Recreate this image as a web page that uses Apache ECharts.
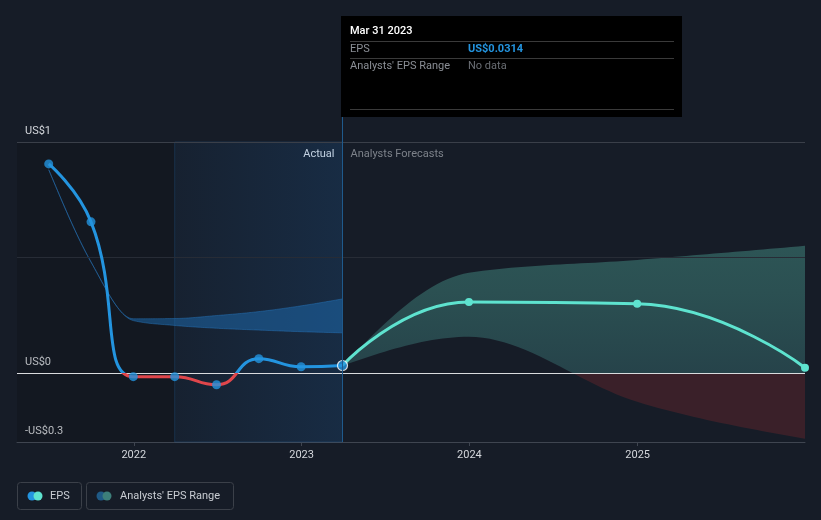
<!DOCTYPE html>
<html>
<head>
<meta charset="utf-8">
<script src="https://cdn.jsdelivr.net/npm/echarts@6/dist/echarts.min.js"></script>
<style>
html,body{margin:0;padding:0;background:#161c27;}
#c{width:821px;height:520px;}
</style>
</head>
<body>
<div id="c"></div>
<script>
// ---- data ----
const actualDates = ['2021-06-30','2021-09-30','2021-12-31','2022-03-31','2022-06-30','2022-09-30','2022-12-31','2023-03-31'];
const actualEps = [0.905, 0.654, -0.017, -0.017, -0.052, 0.061, 0.026, 0.0314];
const forecastDates = ['2023-03-31','2023-12-31','2024-12-31','2025-12-31'];
const forecastEps = [0.0314, 0.307, 0.299, 0.022];
const forecastLow = [0.0314, 0.156, -0.126, -0.286];
const forecastHigh = [0.0314, 0.433, 0.489, 0.55];
const pastRangeDates = ['2021-06-30','2021-09-30','2021-12-31','2022-03-31','2022-06-30','2022-09-30','2022-12-31','2023-03-31'];
const pastRangeLow = [0.88, 0.48, 0.226, 0.205, 0.193, 0.185, 0.178, 0.173];
const pastRangeHigh = [0.88, 0.48, 0.234, 0.235, 0.248, 0.265, 0.29, 0.32];
const yearTicks = [2022, 2023, 2024, 2025];
const yTickValues = [-0.3, 0, 1];
const yTickLabels = ['-US$0.3', 'US$0', 'US$1'];

// ---- helpers ----
const t = s => { const [y, m, d] = s.split('-').map(Number); return Date.UTC(y, m - 1, d); };
const pairs = (ds, vs) => ds.map((d, i) => [t(d), vs[i]]);
const triples = (ds, lo, hi) => ds.map((d, i) => [t(d), lo[i], hi[i]]);
const FONT = 'Roboto, "Noto Sans", sans-serif';

// monotone-x cubic curve through pixel points, sampled into a polyline
function monotoneSample(pts) {
  const n = pts.length;
  if (n < 2) return pts.slice();
  const sgn = v => (v > 0) - (v < 0);
  const sl = [];
  for (let i = 0; i < n - 1; i++) {
    const h = pts[i + 1][0] - pts[i][0];
    sl.push(h ? (pts[i + 1][1] - pts[i][1]) / h : 0);
  }
  const tan = new Array(n).fill(0);
  for (let i = 1; i < n - 1; i++) {
    const h0 = pts[i][0] - pts[i - 1][0], h1 = pts[i + 1][0] - pts[i][0];
    const s0 = sl[i - 1], s1 = sl[i];
    const p = (s0 * h1 + s1 * h0) / (h0 + h1);
    tan[i] = (sgn(s0) + sgn(s1)) * Math.min(Math.abs(s0), Math.abs(s1), 0.5 * Math.abs(p)) || 0;
  }
  if (n === 2) { tan[0] = tan[1] = sl[0]; }
  else {
    tan[0] = (3 * sl[0] - tan[1]) / 2;
    tan[n - 1] = (3 * sl[n - 2] - tan[n - 2]) / 2;
  }
  const out = [pts[0]];
  for (let i = 0; i < n - 1; i++) {
    const p = pts[i], q = pts[i + 1], dx = (q[0] - p[0]) / 3;
    const c1 = [p[0] + dx, p[1] + dx * tan[i]], c2 = [q[0] - dx, q[1] - dx * tan[i + 1]];
    for (let k = 1; k <= 24; k++) {
      const u = k / 24, a = (1 - u) ** 3, b = 3 * (1 - u) ** 2 * u, c = 3 * (1 - u) * u * u, e = u ** 3;
      out.push([a * p[0] + b * c1[0] + c * c2[0] + e * q[0], a * p[1] + b * c1[1] + c * c2[1] + e * q[1]]);
    }
  }
  return out;
}
function bandRenderer(fill, stroke) {
  return function (params, api) {
    if (params.dataIndex !== 0) return {type: 'group', children: []};
    const n = params.dataInsideLength;
    const up = [], lo = [];
    for (let i = 0; i < n; i++) {
      up.push(api.coord([api.value(0, i), api.value(2, i)]));
      lo.push(api.coord([api.value(0, i), api.value(1, i)]));
    }
    const pts = monotoneSample(up).concat(monotoneSample(lo).reverse());
    return {
      type: 'polygon', shape: {points: pts},
      style: {fill: fill, stroke: stroke || null, lineWidth: stroke ? 1 : 0}
    };
  };
}

const chart = echarts.init(document.getElementById('c'), null, {renderer: 'canvas'});

const xMin = t('2021-04-22'), xMax = t('2025-12-31');
const highlightStart = t('2022-03-31'), nowT = t('2023-03-31');
const GT = 142, GB = 442, zeroOff = 1 / 1.3;

const fcFill = new echarts.graphic.LinearGradient(0, GT, 0, GB, [
  {offset: 0, color: '#315f5d'},
  {offset: 0.5, color: '#2b5052'},
  {offset: zeroOff, color: '#26434a'},
  {offset: zeroOff + 0.0001, color: '#3a2029'},
  {offset: 1, color: '#3a2029'}], true);

const option = {
  backgroundColor: '#161c27',
  animation: false,
  textStyle: {fontFamily: FONT},
  grid: {left: 17, right: 16, top: GT, bottom: 520 - GB},
  xAxis: {
    type: 'value', min: xMin, max: xMax,
    splitLine: {show: false},
    axisLine: {onZero: false, lineStyle: {color: '#3f4550', width: 1}},
    axisTick: {show: true, length: 4, lineStyle: {color: '#3f4550'},
      customValues: yearTicks.map(y => Date.UTC(y, 0, 1))},
    axisLabel: {color: '#d4d7dc', fontSize: 11, margin: 8, fontFamily: FONT,
      customValues: yearTicks.map(y => Date.UTC(y, 0, 1)),
      formatter: v => String(new Date(v).getUTCFullYear())}
  },
  yAxis: {
    type: 'value', min: -0.3, max: 1,
    splitLine: {show: false},
    axisLine: {show: false}, axisTick: {show: false},
    axisLabel: {inside: true, verticalAlign: 'bottom', margin: 8, color: '#d4d7dc', fontSize: 11, fontFamily: FONT,
      customValues: yTickValues,
      formatter: v => { const i = yTickValues.findIndex(x => Math.abs(x - v) < 1e-9); return i >= 0 ? yTickLabels[i] : ''; },
      padding: [0, 0, 5, 0]}
  },
  series: [
    { // 0 past analyst range band
      type: 'custom', z: 2, clip: true, silent: true,
      encode: {x: 0, y: [1, 2]},
      renderItem: bandRenderer('rgba(30,112,185,0.48)', 'rgba(40,120,190,0.45)'),
      data: triples(pastRangeDates, pastRangeLow, pastRangeHigh),
      markArea: {
        silent: true,
        data: [
          [{xAxis: xMin, itemStyle: {color: 'rgba(0,0,0,0.13)'}}, {xAxis: highlightStart}],
          [{xAxis: highlightStart, itemStyle: {
            color: new echarts.graphic.LinearGradient(0, 0, 1, 0, [
              {offset: 0, color: 'rgba(30,100,170,0.07)'},
              {offset: 1, color: 'rgba(30,100,170,0.22)'}]),
            borderColor: 'rgba(40,110,180,0.25)', borderWidth: 1}}, {xAxis: nowT}]
        ]
      },
      markLine: {
        silent: true, symbol: 'none', label: {show: false},
        data: [
          {yAxis: 1, lineStyle: {color: '#3a3f49', width: 1, type: 'solid'}},
          {yAxis: 0.5, lineStyle: {color: '#272c36', width: 1, type: 'solid'}}
        ]
      }
    },
    { // 1 forecast analyst range band
      type: 'custom', z: 2, clip: true, silent: true,
      encode: {x: 0, y: [1, 2]},
      renderItem: bandRenderer(fcFill, null),
      data: triples(forecastDates, forecastLow, forecastHigh),
      markLine: {
        silent: true, symbol: 'none', label: {show: false}, z: 3,
        data: [{yAxis: 0, lineStyle: {color: '#d9dbde', width: 1, type: 'solid'}}]
      }
    },
    { // 2 actual EPS line (red below zero)
      type: 'line', smooth: 0.5, showSymbol: false, z: 5,
      lineStyle: {width: 3, color: new echarts.graphic.LinearGradient(0, GT, 0, GB, [
        {offset: 0, color: '#2394df'},
        {offset: zeroOff, color: '#2394df'},
        {offset: zeroOff + 0.0001, color: '#e0464b'},
        {offset: 1, color: '#e0464b'}], true)},
      data: pairs(actualDates, actualEps)
    },
    { // 3 actual EPS points
      type: 'scatter', z: 6, symbolSize: 9,
      itemStyle: {color: '#2394df'},
      data: pairs(actualDates, actualEps).map((p, i, a) => i === a.length - 1
        ? {value: p, symbolSize: 10, itemStyle: {color: '#2394df', borderColor: '#ffffff', borderWidth: 1.2}}
        : p)
    },
    { // 4 forecast EPS
      type: 'line', smooth: 0.5, z: 4, symbol: 'circle', symbolSize: 8, showSymbol: true,
      lineStyle: {width: 3, color: '#5ee3cf'}, itemStyle: {color: '#5ee3cf'},
      data: pairs(forecastDates, forecastEps).map((p, i) => i === 0 ? {value: p, symbol: 'none'} : p)
    }
  ]
};
chart.setOption(option);

// ---- overlays ----
const nowPx = chart.convertToPixel({xAxisIndex: 0, yAxisIndex: 0}, [nowT, 0]);
const botPx = chart.convertToPixel({xAxisIndex: 0, yAxisIndex: 0}, [nowT, -0.3]);
const nx = Math.round(nowPx[0]) + 0.5;
const txt = (x, y, s, color, size, weight, align) => ({
  type: 'text', x, y, silent: true,
  style: {text: s, fill: color, fontSize: size, fontWeight: weight || 'normal', fontFamily: FONT,
    align: align || 'left', verticalAlign: 'middle'}
});
const hl = (x1, x2, y, color) => ({type: 'line', silent: true,
  shape: {x1, y1: y, x2, y2: y}, style: {stroke: color, lineWidth: 1}});

chart.setOption({
  graphic: [
    {type: 'line', silent: true, z: 10, shape: {x1: nx, y1: 117, x2: nx, y2: botPx[1]},
      style: {stroke: '#1f5a8c', lineWidth: 1}},
    txt(nx - 8, 154, 'Actual', '#e8eaed', 11, 'normal', 'right'),
    txt(nx + 8, 154, 'Analysts Forecasts', '#7d828a', 11, 'normal', 'left'),
    {type: 'rect', silent: true, z: 20, shape: {x: 341, y: 16, width: 341, height: 101},
      style: {fill: '#000000'}},
    Object.assign(txt(350, 31, 'Mar 31 2023', '#ffffff', 11, 500), {z: 21}),
    Object.assign(hl(350, 674, 41.5, '#3a3a3a'), {z: 21}),
    Object.assign(txt(350, 49.5, 'EPS', '#8b8f96', 11), {z: 21}),
    Object.assign(txt(468, 49.5, 'US$0.0314', '#2394df', 11, 'bold'), {z: 21}),
    Object.assign(hl(350, 674, 58.5, '#3a3a3a'), {z: 21}),
    Object.assign(txt(350, 66, "Analysts' EPS Range", '#8b8f96', 11), {z: 21}),
    Object.assign(txt(468, 66, 'No data', '#6a6e74', 11), {z: 21}),
    Object.assign(hl(350, 674, 109.5, '#3a3a3a'), {z: 21}),
    {type: 'rect', silent: true, shape: {x: 17.5, y: 482.5, width: 64, height: 27, r: 3},
      style: {fill: 'none', stroke: '#3b4049', lineWidth: 1}},
    {type: 'circle', silent: true, shape: {cx: 32, cy: 496, r: 4.5}, style: {fill: '#2394df'}},
    {type: 'circle', silent: true, shape: {cx: 38, cy: 496, r: 4.5}, style: {fill: '#5ee3cf'}},
    txt(50, 496, 'EPS', '#c9cdd3', 11),
    {type: 'rect', silent: true, shape: {x: 86.5, y: 482.5, width: 147, height: 27, r: 3},
      style: {fill: 'none', stroke: '#3b4049', lineWidth: 1}},
    {type: 'circle', silent: true, shape: {cx: 101, cy: 496, r: 4.5}, style: {fill: '#1f5a86'}},
    {type: 'circle', silent: true, shape: {cx: 107, cy: 496, r: 4.5}, style: {fill: '#3d7f7a'}},
    txt(120, 496, "Analysts' EPS Range", '#c9cdd3', 11)
  ]
});
</script>
</body>
</html>
